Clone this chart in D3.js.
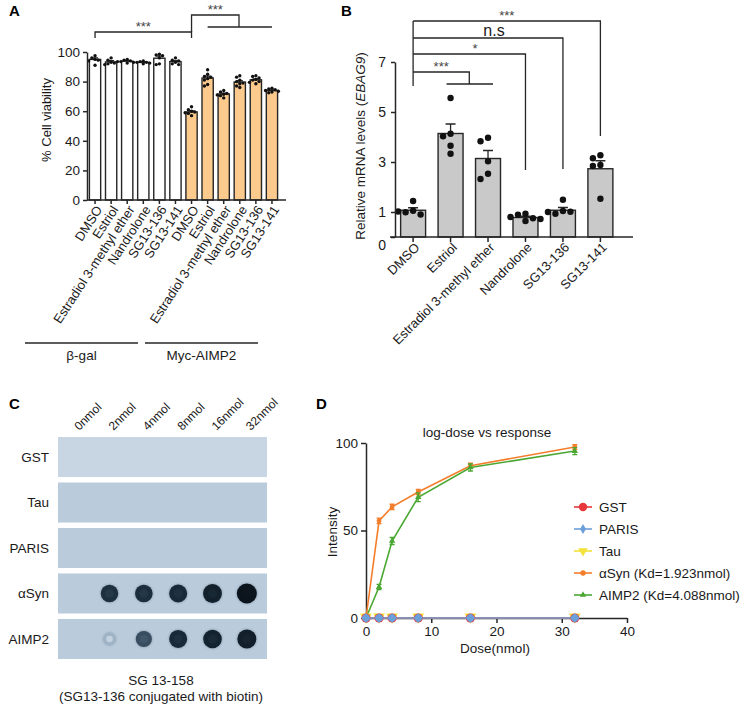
<!doctype html>
<html>
<head>
<meta charset="utf-8"/>
<script src="https://cdnjs.cloudflare.com/ajax/libs/d3/7.8.5/d3.min.js"></script>
<style>
body{margin:0;background:#fff;}
svg{font-family:"Liberation Sans",Arial,sans-serif;}
.axis path,.axis line{stroke:#262626;stroke-width:1.5px;}
.axis text{font-size:13.5px;fill:#1a1a1a;font-family:"Liberation Sans",Arial,sans-serif;}
.panel{font-weight:bold;font-size:15px;fill:#000;}
.lbl{font-size:13.5px;fill:#1a1a1a;}
.star{font-size:13px;fill:#444;}
.brk{stroke:#262626;stroke-width:1.3px;fill:none;}
</style>
</head>
<body>
<svg width="741" height="706"></svg>
<script>
// ---- panel A data
var catsA = ["DMSO","Estriol","Estradiol 3-methyl ether","Nandrolone","SG13-136","SG13-141"];
var groupsA = ["β-gal","Myc-AIMP2"];
var meanBgal = [95, 93.3, 93.8, 93, 95.8, 93.5];
var semBgal = [1.0, 0.8, 0.4, 0.3, 1.4, 0.7];
var meanAimp2 = [59.5, 82.4, 71.6, 79.7, 81.2, 74];
var semAimp2 = [0.7, 1.3, 0.6, 1.0, 0.7, 0.4];
var ptsBgal = [[97.5,96,95,94.5,94,91],[96,94.5,93,92.5,92,91.5,93.5],[95,94.5,94,93.5,93,92.5],
  [94,93.5,93,93,92.5,92],[98.5,98,97.5,96,92,91.5],[96,94.5,94,93,92,91.5]];
var ptsAimp2 = [[63,61,60,59.5,59,58.5,57],[88,85,83.5,83,82,81,78,77],[74,73,72,71.5,71,70.5,69],
  [84,83,81,80,79,78.5,77,76],[84,83.5,82.5,81.5,81,80,79.5,78.5],[75.5,75,74.5,74,73.5,73,72.5]];
var ticksA = [0,20,40,60,80,100];

// ---- panel B data
var catsB = ["DMSO","Estriol","Estradiol 3-methyl ether","Nandrolone","SG13-136","SG13-141"];
var meanB = [1.07, 4.14, 3.14, 0.78, 1.07, 2.73];
var semB = [0.1, 0.38, 0.32, 0.05, 0.11, 0.32];
var ptsB = [[1.44,1.05,0.99,0.9,1.02],[5.56,4.13,4.03,3.65,3.33],[3.97,3.83,3.03,2.53,2.32],
  [0.93,0.89,0.75,0.64,0.8,0.72],[1.49,1.04,0.93,1.01,1.0],[3.27,3.15,2.88,2.84,1.53]];
var ticksB = [0,1,3,5,7];

// ---- panel C data
var blotRows = ["GST","Tau","PARIS","αSyn","AIMP2"];
var blotDoses = ["0nmol","2nmol","4nmol","8nmol","16nmol","32nmol"];
var blotSignal = {
  "GST":[0,0,0,0,0,0],
  "Tau":[0,0,0,0,0,0],
  "PARIS":[0,0,0,0,0,0],
  "αSyn":[0,0.74,0.76,0.8,0.88,1.0],
  "AIMP2":[0,0.3,0.62,0.8,0.86,0.9]
};

// ---- panel D data
var doses = [0,2,4,8,16,32];
var dSeries = ["GST","PARIS","Tau","αSyn (Kd=1.923nmol)","AIMP2 (Kd=4.088nmol)"];
var gstVals = [0,0,0,0,0,0];
var parisVals = [0,0,0,0,0,0];
var tauVals = [0,0,0,0,0,0];
var asynVals = [0,55.5,63.5,72,87,97.7];
var asynErr = [0.5,1.6,1.5,1.5,1.5,1.3];
var aimpVals = [0,17.7,44,69,86,95.4];
var aimpErr = [0.5,1.5,2,2.5,2,2];
var ticksDx = [0,10,20,30,40];
var ticksDy = [0,50,100];

var svg = d3.select("svg");

// simple beeswarm: offset points that would overlap
function swarm(vals, y, r, step){
  var placed = [];
  return vals.map(function(v){
    var cy = y(v), offs = [0,-step,step,-2*step,2*step], o = 0;
    for (var k=0;k<offs.length;k++){
      var ok = placed.every(p => Math.hypot(p.dx-offs[k], p.cy-cy) >= 2*r*0.95);
      if (ok){ o = offs[k]; break; }
    }
    placed.push({dx:o, cy:cy});
    return {v:v, dx:o, cy:cy};
  });
}

// ================= PANEL A
(function(){
  var g = svg.append("g");
  var rows = [];
  groupsA.forEach(function(gr, gi){
    catsA.forEach(function(c, ci){
      rows.push({key:gi+"-"+ci, cat:c, gi:gi,
        mean: gi ? meanAimp2[ci] : meanBgal[ci],
        sem: gi ? semAimp2[ci] : semBgal[ci],
        pts: gi ? ptsAimp2[ci] : ptsBgal[ci]});
    });
  });
  var x = d3.scaleBand().domain(rows.map(d=>d.key)).range([87,280]).paddingInner(0.3).paddingOuter(0.15);
  var y = d3.scaleLinear().domain([0,100]).range([200,52]);
  var cx = k => x(k) + x.bandwidth()/2;

  g.selectAll("rect.bar").data(rows).enter().append("rect")
    .attr("x", d=>x(d.key)).attr("width", x.bandwidth())
    .attr("y", d=>y(d.mean)).attr("height", d=>y(0)-y(d.mean))
    .attr("fill", d=> d.gi ? "#fdca8e" : "#fff")
    .attr("stroke","#262626").attr("stroke-width",1.4);

  rows.forEach(function(d){
    var c = cx(d.key);
    g.append("path").attr("class","brk")
      .attr("d","M"+c+","+y(d.mean)+"V"+y(d.mean+d.sem)+"M"+(c-3)+","+y(d.mean+d.sem)+"H"+(c+3));
    g.selectAll(null).data(swarm(d.pts, y, 1.7, 3.2)).enter().append("circle")
      .attr("cx", p=>c+p.dx).attr("cy", p=>p.cy).attr("r",1.7).attr("fill","#111");
  });

  g.append("g").attr("class","axis").attr("transform","translate(87,0)")
    .call(d3.axisLeft(y).tickValues(ticksA).tickSize(4).tickSizeOuter(0).tickPadding(3));
  var xa = g.append("g").attr("class","axis").attr("transform","translate(0,200)")
    .call(d3.axisBottom(x).tickSize(4).tickSizeOuter(0).tickFormat(""));
  xa.select(".domain").attr("d","M87,0H286");

  g.selectAll("text.xl").data(rows).enter().append("text").attr("class","lbl")
    .style("font-size","13px").attr("text-anchor","end")
    .attr("transform", d=>"translate("+(cx(d.key)+4)+",207) rotate(-57)")
    .attr("dy","0.35em")
    .text(d=>d.cat);

  g.append("text").attr("class","lbl").style("font-size","13px")
    .attr("transform","translate(51,120) rotate(-90)").attr("text-anchor","middle")
    .text("% Cell viability");

  // group lines
  [[25,138],[145,258]].forEach(function(s,i){
    g.append("line").attr("x1",s[0]).attr("x2",s[1]).attr("y1",343).attr("y2",343)
      .attr("stroke","#262626").attr("stroke-width",1.3);
    g.append("text").attr("class","lbl").attr("text-anchor","middle")
      .attr("x",(s[0]+s[1])/2).attr("y",360).text(groupsA[i]);
  });

  // significance
  var c0 = cx("0-0"), c6 = cx("1-0"), c7 = cx("1-1"), c11 = cx("1-5");
  g.append("path").attr("class","brk").attr("d","M"+c0+",38V32H"+c6+"V38");
  g.append("text").attr("class","star").attr("text-anchor","middle").attr("x",(c0+c6)/2).attr("y",30.5).text("***");
  g.append("path").attr("class","brk").attr("d","M"+c6+",32V15H239V27M"+c7+",27H"+c11);
  g.append("text").attr("class","star").attr("text-anchor","middle").attr("x",(c6+239)/2).attr("y",13.5).text("***");

  svg.append("text").attr("class","panel").attr("x",9).attr("y",16).text("A");
})();

// ================= PANEL B
(function(){
  var g = svg.append("g");
  var x = d3.scaleBand().domain(catsB).range([395,618.5]).paddingInner(1/3).paddingOuter(0.15);
  var y = d3.scaleLinear().domain([0,7]).range([237,62]);
  var cx = c => x(c) + x.bandwidth()/2;

  g.selectAll("rect").data(catsB).enter().append("rect")
    .attr("x", d=>x(d)).attr("width", x.bandwidth())
    .attr("y", (d,i)=>y(meanB[i])).attr("height", (d,i)=>y(0)-y(meanB[i]))
    .attr("fill","#c9c9c9").attr("stroke","#262626").attr("stroke-width",1.4);

  catsB.forEach(function(c,i){
    var xc = cx(c);
    g.append("path").attr("class","brk")
      .attr("d","M"+xc+","+y(meanB[i])+"V"+y(meanB[i]+semB[i])+"M"+(xc-5)+","+y(meanB[i]+semB[i])+"H"+(xc+5));
    g.selectAll(null).data(swarm(ptsB[i], y, 3.2, 7.5)).enter().append("circle")
      .attr("cx", p=>xc+p.dx).attr("cy", p=>p.cy).attr("r",3.2).attr("fill","#111");
  });

  var ya = g.append("g").attr("class","axis").attr("transform","translate(395,0)")
    .call(d3.axisLeft(y).tickValues(ticksB).tickFormat(d3.format("d")).tickSize(4).tickSizeOuter(0).tickPadding(5));
  ya.selectAll("text").style("font-size","14px");
  ya.selectAll(".tick").filter(d=>d===0).select("text").attr("dy","0.9em");
  var xa = g.append("g").attr("class","axis").attr("transform","translate(0,237)")
    .call(d3.axisBottom(x).tickSize(5).tickSizeOuter(0).tickFormat(""));
  xa.select(".domain").attr("d","M390,0H633");

  g.selectAll("text.xl").data(catsB).enter().append("text").attr("class","lbl")
    .style("font-size","13px").attr("text-anchor","end")
    .attr("transform", d=>"translate("+(cx(d)+4)+",245) rotate(-45)")
    .attr("dy","0.35em").text(d=>d);

  var yl = g.append("text").attr("class","lbl")
    .attr("transform","translate(365,146) rotate(-90)").attr("text-anchor","middle");
  yl.append("tspan").text("Relative mRNA levels (");
  yl.append("tspan").style("font-style","italic").text("EBAG9");
  yl.append("tspan").text(")");

  // significance brackets
  var d0 = cx(catsB[0]);
  var mid12 = (cx(catsB[1])+cx(catsB[2]))/2;
  g.append("path").attr("class","brk").attr("d","M"+d0+",86V21");
  g.append("path").attr("class","brk").attr("d","M"+d0+",21H"+cx(catsB[5])+"V136");
  g.append("path").attr("class","brk").attr("d","M"+d0+",38H"+cx(catsB[4])+"V169");
  g.append("path").attr("class","brk").attr("d","M"+d0+",54H"+cx(catsB[3])+"V170");
  g.append("path").attr("class","brk").attr("d","M"+d0+",72H"+mid12+"V84M"+(cx(catsB[1])-4)+",84H"+(cx(catsB[2])+5));
  g.append("text").attr("class","star").attr("text-anchor","middle").attr("x",(d0+cx(catsB[5]))/2).attr("y",19.5).text("***");
  g.append("text").attr("class","lbl").style("font-size","16px").attr("text-anchor","middle").attr("x",494).attr("y",35.5).text("n.s");
  g.append("text").attr("class","star").attr("text-anchor","middle").attr("x",475).attr("y",53).text("*");
  g.append("text").attr("class","star").attr("text-anchor","middle").attr("x",(d0+mid12)/2).attr("y",70.5).text("***");

  svg.append("text").attr("class","panel").attr("x",341).attr("y",16).text("B");
})();

// ================= PANEL C
(function(){
  var g = svg.append("g");
  var col = d3.scaleBand().domain(blotDoses).range([58,264]);
  var row = d3.scaleBand().domain(blotRows).range([437,659]).paddingInner(0.12);
  var rad = d3.scaleLinear().domain([0.3,1]).range([6.5,10]);
  var dark = d3.scaleLinear().domain([0,0.3,0.7,1]).range(["#bacbdb","#9fb3c6","#1f3446","#0b141c"]);

  var defs = svg.append("defs");
  var rg = defs.append("radialGradient").attr("id","halo");
  rg.append("stop").attr("offset","60%").attr("stop-color","#2a4054").attr("stop-opacity",0.6);
  rg.append("stop").attr("offset","100%").attr("stop-color","#bacbdb").attr("stop-opacity",0);

  g.selectAll("rect").data(blotRows).enter().append("rect")
    .attr("x",58).attr("width",209).attr("y",d=>row(d)).attr("height",row.bandwidth())
    .attr("fill",(d,i)=> i===0 ? "#c8d5e3" : "#bacbdb");

  g.selectAll("text.rl").data(blotRows).enter().append("text").attr("class","lbl")
    .attr("text-anchor","end")
    .attr("x",49).attr("y",d=>row(d)+row.bandwidth()/2).attr("dy","0.35em").text(d=>d);

  g.selectAll("text.cl").data(blotDoses).enter().append("text").attr("class","lbl")
    .style("font-size","12px")
    .attr("transform",d=>"translate("+(col(d)+col.bandwidth()/2+4)+",431) rotate(-45)")
    .text(d=>d);

  blotRows.forEach(function(r){
    var cy = row(r)+row.bandwidth()/2;
    blotSignal[r].forEach(function(s,i){
      if (s<=0) return;
      var xc = col(blotDoses[i])+col.bandwidth()/2, rr = rad(s);
      g.append("circle").attr("cx",xc).attr("cy",cy).attr("r",rr+3).attr("fill","url(#halo)").attr("opacity",s);
      g.append("circle").attr("cx",xc).attr("cy",cy).attr("r",rr).attr("fill",dark(s));
      g.append("circle").attr("cx",xc).attr("cy",cy).attr("r",rr*0.5)
        .attr("fill", s<0.5 ? "#c3d2e0" : d3.interpolateRgb(dark(s),"#6d879e")(0.35*(1.05-s)));
    });
  });

  g.append("text").attr("class","lbl").attr("text-anchor","middle")
    .attr("x",161).attr("y",685).text("SG 13-158");
  g.append("text").attr("class","lbl").attr("text-anchor","middle")
    .attr("x",161).attr("y",701).text("(SG13-136 conjugated with biotin)");

  svg.append("text").attr("class","panel").attr("x",9).attr("y",409).text("C");
})();

// ================= PANEL D
(function(){
  var g = svg.append("g");
  var x = d3.scaleLinear().domain([0,40]).range([366,627]);
  var y = d3.scaleLinear().domain([0,100]).range([618,443]);
  var colors = ["#e8373c","#6b9fd9","#f2e23a","#f47d2a","#4aa832"];
  var line = d3.line().x((d,i)=>x(doses[i])).y(d=>y(d));

  g.append("g").attr("class","axis").attr("transform","translate(366,0)")
    .call(d3.axisLeft(y).tickValues(ticksDy).tickSize(5).tickSizeOuter(0).tickPadding(3));
  g.append("g").attr("class","axis").attr("transform","translate(0,618)")
    .call(d3.axisBottom(x).tickValues(ticksDx).tickSize(5).tickSizeOuter(0).tickPadding(3));

  function errs(vals, err, color){
    vals.forEach(function(v,i){
      g.append("path").attr("stroke",color).attr("stroke-width",1.3).attr("fill","none")
        .attr("d","M"+x(doses[i])+","+y(v-err[i])+"V"+y(v+err[i])
          +"M"+(x(doses[i])-2.5)+","+y(v-err[i])+"h5M"+(x(doses[i])-2.5)+","+y(v+err[i])+"h5");
    });
  }

  // aSyn
  g.append("path").attr("d",line(asynVals)).attr("fill","none").attr("stroke",colors[3]).attr("stroke-width",1.6);
  errs(asynVals, asynErr, colors[3]);
  g.selectAll(null).data(asynVals).enter().append("circle")
    .attr("cx",(d,i)=>x(doses[i])).attr("cy",d=>y(d)).attr("r",2.4).attr("fill",colors[3]);
  // AIMP2
  g.append("path").attr("d",line(aimpVals)).attr("fill","none").attr("stroke",colors[4]).attr("stroke-width",1.6);
  errs(aimpVals, aimpErr, colors[4]);
  g.selectAll(null).data(aimpVals).enter().append("path")
    .attr("transform",(d,i)=>"translate("+x(doses[i])+","+y(d)+")")
    .attr("d",d3.symbol(d3.symbolTriangle,18)()).attr("fill",colors[4]);

  // zero-level series
  g.append("path").attr("d",line(tauVals)).attr("fill","none").attr("stroke",colors[2]).attr("stroke-width",1.6);
  g.append("path").attr("d",line(gstVals)).attr("fill","none").attr("stroke",colors[0]).attr("stroke-width",1.6);
  g.append("path").attr("d",line(parisVals)).attr("fill","none").attr("stroke",colors[1]).attr("stroke-width",1.6);
  g.selectAll(null).data(tauVals).enter().append("path")
    .attr("transform",(d,i)=>"translate("+x(doses[i])+","+(y(d)-1)+") rotate(180)")
    .attr("d",d3.symbol(d3.symbolTriangle,60)()).attr("fill",colors[2]);
  g.selectAll(null).data(gstVals).enter().append("circle")
    .attr("cx",(d,i)=>x(doses[i])).attr("cy",d=>y(d)).attr("r",4.6).attr("fill",colors[0]);
  g.selectAll(null).data(parisVals).enter().append("path")
    .attr("transform",(d,i)=>"translate("+x(doses[i])+","+y(d)+") rotate(45)")
    .attr("d",d3.symbol(d3.symbolSquare,46)()).attr("fill",colors[1]);
  g.selectAll(null).data(parisVals).enter().append("circle")
    .attr("cx",(d,i)=>x(doses[i])).attr("cy",d=>y(d)).attr("r",3.7).attr("fill",colors[1]);

  g.append("text").attr("class","lbl").attr("text-anchor","middle")
    .attr("x",487).attr("y",437).text("log-dose vs response");
  g.append("text").attr("class","lbl").attr("text-anchor","middle")
    .attr("transform","translate(337,532) rotate(-90)").text("Intensity");
  g.append("text").attr("class","lbl").attr("text-anchor","middle")
    .attr("x",495).attr("y",653).text("Dose(nmol)");

  // legend
  var shapes = [
    d3.symbol(d3.symbolCircle,55)(),
    d3.symbol(d3.symbolDiamond,30)(),
    d3.symbol(d3.symbolTriangle,40)(),
    d3.symbol(d3.symbolCircle,22)(),
    d3.symbol(d3.symbolTriangle,18)()
  ];
  var lg = g.selectAll("g.leg").data(dSeries).enter().append("g")
    .attr("transform",(d,i)=>"translate(574,"+(507+i*22)+")");
  lg.append("line").attr("x1",0).attr("x2",18).attr("stroke",(d,i)=>colors[i]).attr("stroke-width",1.6);
  lg.append("path").attr("d",(d,i)=>shapes[i]).attr("fill",(d,i)=>colors[i])
    .attr("transform",(d,i)=>"translate(9,0)"+(i===2?" rotate(180)":""));
  lg.append("text").attr("class","lbl").attr("x",25).attr("dy","0.35em").text(d=>d);

  svg.append("text").attr("class","panel").attr("x",316).attr("y",409).text("D");
})();
</script>
</body>
</html>
